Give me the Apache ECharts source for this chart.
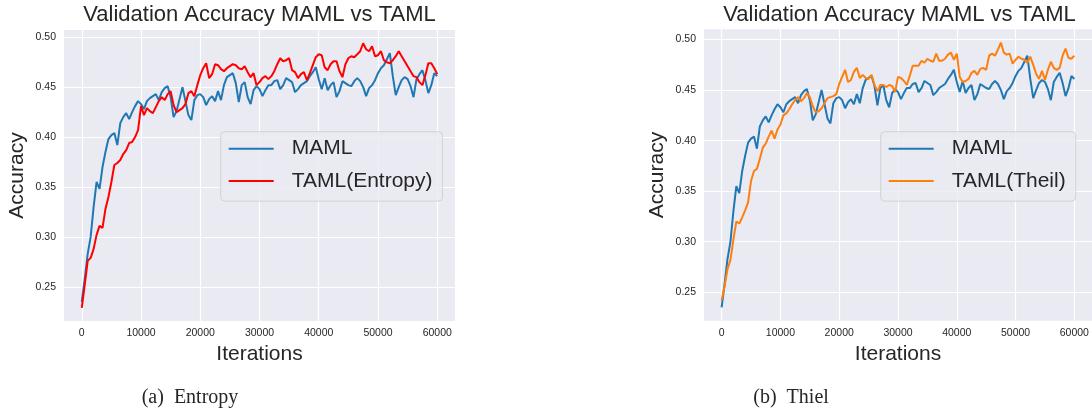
<!DOCTYPE html>
<html><head><meta charset="utf-8">
<script src="https://cdn.jsdelivr.net/npm/echarts@6/dist/echarts.min.js"></script>
<style>html,body{margin:0;padding:0;background:#fff}#c{width:1092px;height:409px}</style>
</head><body><div id="c"></div>
<script>
// ---------------- data ----------------
const iterations = [
  0,500,1000,1500,2000,2500,3000,3500,4000,4500,5000,5500,6000,6500,7000,7500,8000,8500,9000,9500,
  10000,10500,11000,11500,12000,12500,13000,13500,14000,14500,15000,15500,16000,16500,17000,17500,18000,18500,19000,19500,
  20000,20500,21000,21500,22000,22500,23000,23500,24000,24500,25000,25500,26000,26500,27000,27500,28000,28500,29000,29500,
  30000,30500,31000,31500,32000,32500,33000,33500,34000,34500,35000,35500,36000,36500,37000,37500,38000,38500,39000,39500,
  40000,40500,41000,41500,42000,42500,43000,43500,44000,44500,45000,45500,46000,46500,47000,47500,48000,48500,49000,49500,
  50000,50500,51000,51500,52000,52500,53000,53500,54000,54500,55000,55500,56000,56500,57000,57500,58000,58500,59000,59500,
  60000
];
const maml = [
  0.235,0.258,0.283,0.300,0.330,0.355,0.348,0.370,0.385,0.398,0.402,0.404,0.392,0.414,0.420,0.424,0.418,0.425,0.431,0.436,
  0.433,0.428,0.436,0.439,0.441,0.443,0.437,0.445,0.449,0.451,0.440,0.420,0.426,0.438,0.450,0.436,0.422,0.417,0.437,0.442,
  0.443,0.440,0.432,0.438,0.441,0.436,0.446,0.437,0.452,0.460,0.462,0.464,0.454,0.435,0.452,0.455,0.440,0.433,0.447,0.451,
  0.448,0.441,0.447,0.452,0.452,0.456,0.457,0.448,0.452,0.459,0.457,0.455,0.445,0.448,0.452,0.454,0.456,0.461,0.465,0.470,
  0.458,0.448,0.459,0.447,0.452,0.455,0.440,0.446,0.456,0.454,0.452,0.451,0.456,0.459,0.456,0.450,0.441,0.449,0.452,0.457,
  0.464,0.469,0.472,0.478,0.484,0.461,0.442,0.450,0.457,0.460,0.458,0.451,0.440,0.458,0.463,0.467,0.457,0.444,0.452,0.464,
  0.461
];
const tamlEntropy = [
  0.229,0.252,0.276,0.279,0.288,0.302,0.311,0.309,0.328,0.340,0.355,0.372,0.374,0.377,0.383,0.387,0.394,0.395,0.400,0.407,
  0.431,0.422,0.429,0.426,0.424,0.430,0.436,0.440,0.437,0.443,0.446,0.432,0.425,0.427,0.429,0.433,0.444,0.446,0.441,0.452,
  0.462,0.469,0.474,0.459,0.463,0.473,0.472,0.468,0.466,0.469,0.471,0.473,0.472,0.469,0.468,0.471,0.465,0.460,0.464,0.452,
  0.455,0.459,0.461,0.458,0.461,0.466,0.473,0.479,0.476,0.477,0.479,0.467,0.465,0.459,0.463,0.465,0.457,0.464,0.472,0.480,
  0.483,0.482,0.470,0.467,0.473,0.476,0.476,0.466,0.460,0.473,0.479,0.481,0.480,0.483,0.486,0.494,0.488,0.486,0.491,0.481,
  0.482,0.486,0.477,0.475,0.474,0.477,0.481,0.486,0.481,0.476,0.471,0.466,0.461,0.460,0.455,0.452,0.462,0.474,0.474,0.469,
  0.463
];
const tamlTheil = [
  0.242,0.256,0.273,0.282,0.302,0.320,0.318,0.324,0.331,0.339,0.360,0.370,0.372,0.382,0.393,0.397,0.404,0.410,0.402,0.411,
  0.416,0.425,0.427,0.431,0.436,0.440,0.443,0.439,0.442,0.447,0.443,0.434,0.428,0.429,0.432,0.437,0.442,0.443,0.444,0.446,
  0.456,0.463,0.470,0.458,0.460,0.468,0.472,0.462,0.465,0.462,0.461,0.465,0.455,0.449,0.455,0.455,0.453,0.455,0.454,0.448,
  0.463,0.462,0.459,0.455,0.464,0.474,0.474,0.474,0.479,0.477,0.481,0.479,0.478,0.486,0.479,0.479,0.481,0.485,0.487,0.480,
  0.486,0.463,0.458,0.459,0.461,0.467,0.469,0.465,0.471,0.472,0.470,0.484,0.486,0.484,0.490,0.497,0.487,0.485,0.486,0.476,
  0.480,0.483,0.481,0.480,0.477,0.483,0.475,0.466,0.461,0.469,0.460,0.470,0.478,0.472,0.470,0.472,0.484,0.491,0.482,0.481,
  0.484
];
const chartTitle = 'Validation Accuracy MAML vs TAML';
const xAxisName = 'Iterations';
const yAxisName = 'Accuracy';
const seriesNames = ['MAML', 'TAML(Entropy)', 'TAML(Theil)'];
const captions = ['(a)  Entropy', '(b)  Thiel'];

// ---------------- helpers ----------------
const SANS = '"Liberation Sans", Arial, sans-serif';
const SERIF = '"Liberation Serif", "Times New Roman", serif';
const TEXT = '#262626';
function pairs(xs, ys) { return xs.map((x, i) => [x, ys[i]]); }
function padded(arrs) {
  const all = [].concat(...arrs);
  const lo = Math.min(...all), hi = Math.max(...all), m = (hi - lo) * 0.05;
  return [lo - m, hi + m];
}
const xr = padded([iterations]);
const yrA = padded([maml, tamlEntropy]);
const yrB = padded([maml, tamlTheil]);

function xAxis(gi) {
  return {
    type: 'value', gridIndex: gi, min: xr[0], max: xr[1], splitNumber: 6,
    name: xAxisName, nameLocation: 'middle', nameGap: 20,
    nameTextStyle: { fontFamily: SANS, fontSize: 21, color: TEXT },
    axisLine: { show: false }, axisTick: { show: false },
    axisLabel: { fontFamily: SANS, fontSize: 10.5, color: TEXT, margin: 7, showMinLabel: false, showMaxLabel: false,
      formatter: v => String(Math.round(v)) },
    splitLine: { show: true, showMinLine: false, showMaxLine: false, lineStyle: { color: '#ffffff', width: 1.2 } }
  };
}
function yAxis(gi, r) {
  return {
    type: 'value', gridIndex: gi, min: r[0], max: r[1], splitNumber: 6,
    name: yAxisName, nameLocation: 'middle', nameGap: 36, nameRotate: 90,
    nameTextStyle: { fontFamily: SANS, fontSize: 21, color: TEXT },
    axisLine: { show: false }, axisTick: { show: false },
    axisLabel: { fontFamily: SANS, fontSize: 10.5, color: TEXT, margin: 8, showMinLabel: false, showMaxLabel: false,
      formatter: v => v.toFixed(2) },
    splitLine: { show: true, showMinLine: false, showMaxLine: false, lineStyle: { color: '#ffffff', width: 1.2 } }
  };
}
function legend(left, names) {
  return {
    orient: 'vertical', left: left, top: 131.7, data: names,
    icon: 'rect', itemWidth: 45, itemHeight: 2, itemGap: 8.4,
    padding: [5, 10, 8, 8],
    backgroundColor: 'rgba(234,234,242,0.8)', borderColor: 'rgba(204,204,204,0.8)', borderWidth: 1, borderRadius: 4,
    textStyle: { fontFamily: SANS, fontSize: 21, color: TEXT, lineHeight: 24, padding: [0, 0, 0, 13] },
    selectedMode: false
  };
}
function line(name, xi, ys, color) {
  return {
    type: 'line', name: name, xAxisIndex: xi, yAxisIndex: xi, data: pairs(iterations, ys),
    showSymbol: false, symbol: 'none', smooth: false, animation: false,
    lineStyle: { color: color, width: 2 }, itemStyle: { color: color }
  };
}
function txt(x, y, text, font, align) {
  return { type: 'text', x: x, y: y, silent: true,
    style: { text: text, font: font, fill: TEXT, align: align, verticalAlign: 'middle',
             textAlign: align, textVerticalAlign: 'middle' } };
}

const chart = echarts.init(document.getElementById('c'), null, { renderer: 'canvas' });
chart.setOption({
  animation: false,
  backgroundColor: '#ffffff',
  grid: [
    { left: 64, top: 30, width: 391, height: 291, show: true, backgroundColor: '#EAEAF2', borderWidth: 0, containLabel: false },
    { left: 704, top: 29.3, width: 391, height: 291.4, show: true, backgroundColor: '#EAEAF2', borderWidth: 0, containLabel: false }
  ],
  xAxis: [xAxis(0), xAxis(1)],
  yAxis: [yAxis(0, yrA), yAxis(1, yrB)],
  legend: [legend(220.7, [seriesNames[0], seriesNames[1]]), legend(880.7, [seriesNames[0], seriesNames[2]])],
  series: [
    line(seriesNames[0], 0, maml, '#1f77b4'),
    line(seriesNames[1], 0, tamlEntropy, '#ff0000'),
    line(seriesNames[0], 1, maml, '#1f77b4'),
    line(seriesNames[2], 1, tamlTheil, '#ff7f0e')
  ],
  graphic: [
    txt(259.5, 14.7, chartTitle, '22px ' + SANS, 'center'),
    txt(899.5, 14.7, chartTitle, '22px ' + SANS, 'center'),
    txt(141.7, 398, captions[0], '20px ' + SERIF, 'left'),
    txt(753.3, 398, captions[1], '20px ' + SERIF, 'left')
  ]
});
</script></body></html>
